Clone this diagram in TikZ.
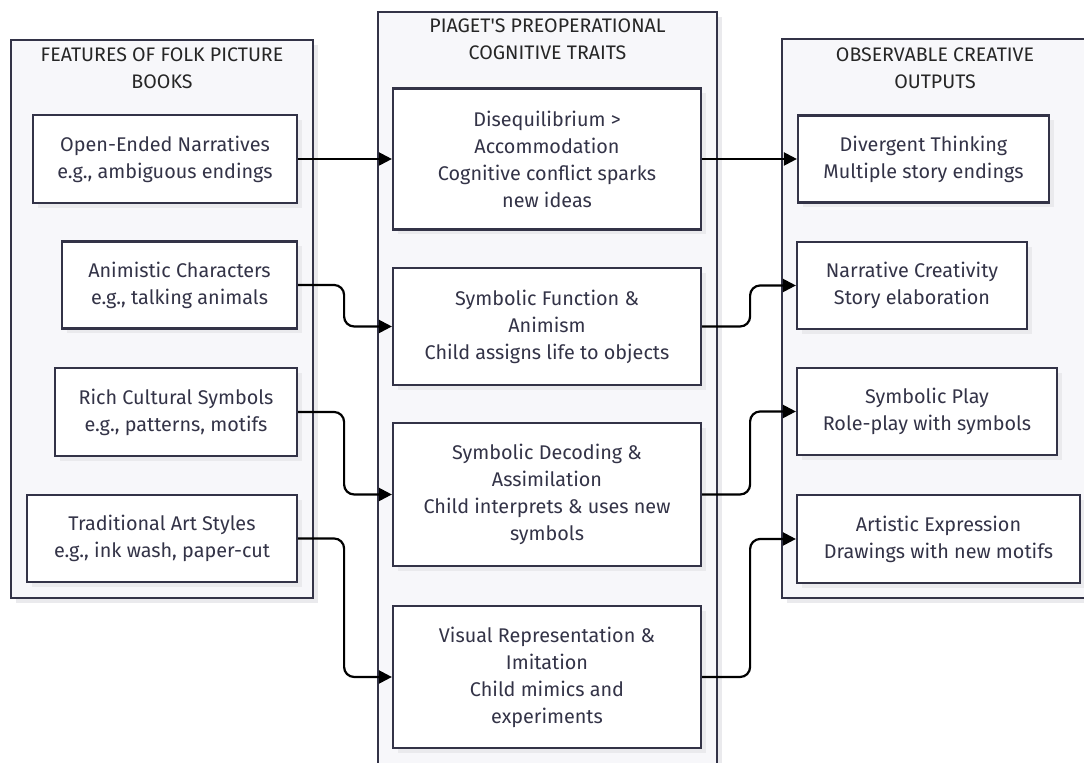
\documentclass[tikz,border=0pt]{standalone}
\usepackage{fontspec}
\setmainfont{Fira Sans}
\usepackage{xcolor}
\usepackage{tikz}
\usetikzlibrary{positioning,arrows.meta,shadows}

\definecolor{inkline}{HTML}{333347}
\definecolor{groupfill}{HTML}{F7F7FA}
\definecolor{shadowgrey}{HTML}{EAEAED}

\tikzset{
  softshadow/.style={drop shadow={shadow xshift=2.5pt,shadow yshift=-2.5pt,fill=shadowgrey,opacity=1}},
  group/.style={draw=inkline, line width=1.1pt, fill=groupfill, softshadow, inner sep=0pt},
  grouptitle/.style={text=black!85, align=center, font=\fontsize{9.8}{13.5}\selectfont},
  itembox/.style={draw=inkline, line width=1.1pt, fill=white, text=inkline, align=center,
    inner sep=0pt, softshadow, font=\fontsize{9.9}{13.5}\selectfont},
  flow/.style={line width=1.1pt, rounded corners=5pt, -{Triangle[length=6.5pt,width=6.5pt]}}
}

\begin{document}
\begin{tikzpicture}[x=0.5pt,y=-0.5pt]
    \clip (0,0) rectangle (1084,763);

    \node[group, minimum width=151pt, minimum height=279pt] (features) at (162,319) {};
    \node[group, minimum width=169.5pt, minimum height=394pt] (piaget) at (547.5,406) {};
    \node[group, minimum width=153pt, minimum height=279.5pt] (outputs) at (935,318.5) {};

    \node[grouptitle] (featuresT) at (162,68) {FEATURES OF FOLK PICTURE\\BOOKS};
    \node[grouptitle] (piagetT) at (547.5,39.5) {PIAGET\textquotesingle S PREOPERATIONAL\\COGNITIVE TRAITS};
    \node[grouptitle] (outputsT) at (935,68) {OBSERVABLE CREATIVE\\OUTPUTS};

    \node[itembox, minimum width=132pt, minimum height=44pt] (open) at (165,159) {Open-Ended Narratives\\e.g., ambiguous endings};
    \node[itembox, minimum width=117.5pt, minimum height=43.5pt] (animistic) at (179.5,285) {Animistic Characters\\e.g., talking animals};
    \node[itembox, minimum width=121pt, minimum height=44pt] (cultural) at (176,412) {Rich Cultural Symbols\\e.g., patterns, motifs};
    \node[itembox, minimum width=135pt, minimum height=43.5pt] (artstyle) at (162,538.5) {Traditional Art Styles\\e.g., ink wash, paper-cut};

    \node[itembox, minimum width=154pt, minimum height=70.5pt] (diseq) at (547,159) {Disequilibrium >\\Accommodation\\Cognitive conflict sparks\\new ideas};
    \node[itembox, minimum width=154pt, minimum height=58.5pt] (symfunc) at (547,326.5) {Symbolic Function \&\\Animism\\Child assigns life to objects};
    \node[itembox, minimum width=154pt, minimum height=71.5pt] (symdec) at (547,494.5) {Symbolic Decoding \&\\Assimilation\\Child interprets \& uses new\\symbols};
    \node[itembox, minimum width=154pt, minimum height=71pt] (visual) at (547,677) {Visual Representation \&\\Imitation\\Child mimics and\\experiments};

    \node[itembox, minimum width=125.5pt, minimum height=43.5pt] (divergent) at (923.5,159) {Divergent Thinking\\Multiple story endings};
    \node[itembox, minimum width=115pt, minimum height=43.5pt] (narrative) at (912,285.5) {Narrative Creativity\\Story elaboration};
    \node[itembox, minimum width=130pt, minimum height=43.5pt] (symplay) at (927,411.5) {Symbolic Play\\Role-play with symbols};
    \node[itembox, minimum width=141.5pt, minimum height=44pt] (artistic) at (938.5,539) {Artistic Expression\\Drawings with new motifs};

    \draw[flow] (open.east) -- (open.east -| diseq.west);
    \draw[flow] (animistic.east) -- ++(46,0) |- (symfunc.west);
    \draw[flow] (cultural.east) -- ++(46,0) |- (symdec.west);
    \draw[flow] (artstyle.east) -- ++(46,0) |- (visual.west);

    \draw[flow] (diseq.east) -- (diseq.east -| divergent.west);
    \draw[flow] (symfunc.east) -- ++(48,0) |- (narrative.west);
    \draw[flow] (symdec.east) -- ++(48,0) |- (symplay.west);
    \draw[flow] (visual.east) -- ++(48,0) |- (artistic.west);
\end{tikzpicture}
\end{document}
